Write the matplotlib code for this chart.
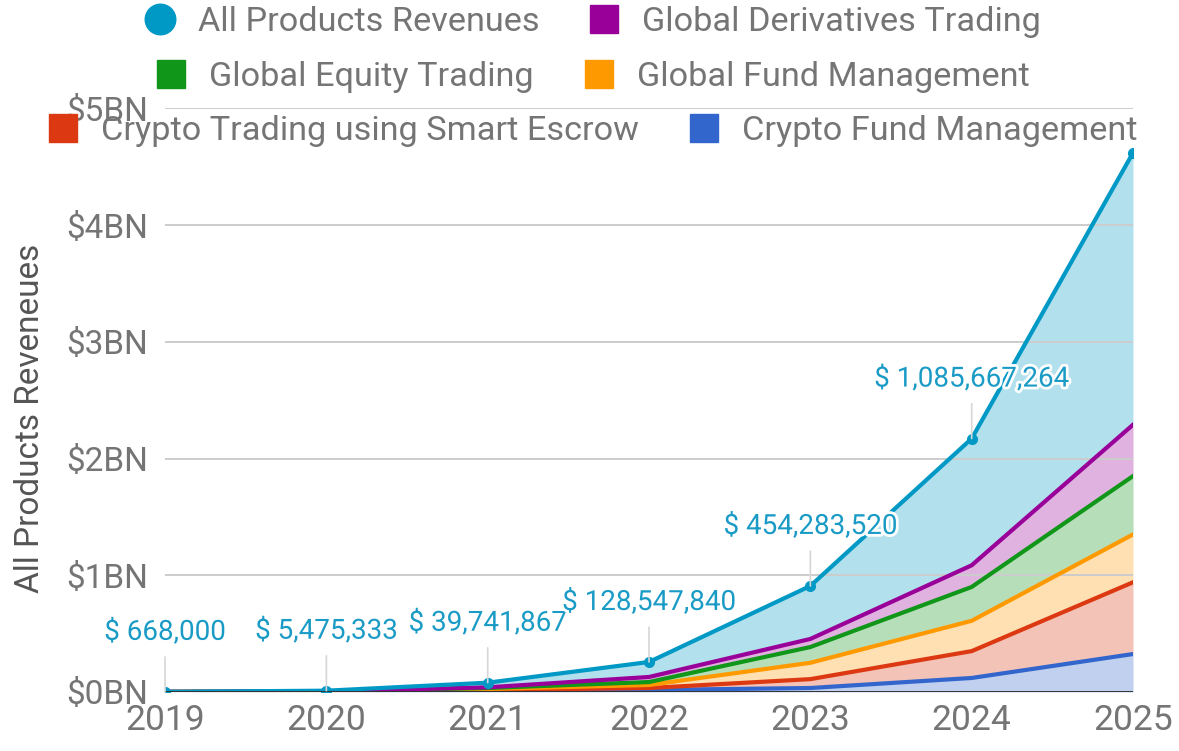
import numpy as np
import matplotlib
matplotlib.use("Agg")
import matplotlib.pyplot as plt
import matplotlib.patheffects as pe
from matplotlib.lines import Line2D
from matplotlib.ticker import FuncFormatter

plt.rcParams["font.family"] = ["Roboto", "DejaVu Sans"]

# ── Data (USD) ─────────────────────────────────────────────────────────────────
years = [2019, 2020, 2021, 2022, 2023, 2024, 2025]

crypto_fund   = [150_000, 1_200_000, 9_000_000, 17_000_000, 34_000_000, 120_000_000, 325_000_000]
crypto_escrow = [130_000, 1_100_000, 8_000_000, 17_000_000, 76_000_000, 230_000_000, 615_000_000]
global_fund   = [130_000, 1_100_000, 9_000_000, 26_000_000, 140_000_000, 260_000_000, 410_000_000]
global_equity = [130_000, 1_000_000, 8_000_000, 25_000_000, 135_000_000, 290_000_000, 500_000_000]
global_deriv  = [128_000, 1_075_333, 5_741_867, 43_547_840, 69_283_520, 185_667_264, 440_000_000]
all_products  = [668_000, 5_475_333, 39_741_867, 128_547_840, 454_283_520, 1_085_667_264, 2_330_000_000]

labels = ["Crypto Fund Management", "Crypto Trading using Smart Escrow",
          "Global Fund Management", "Global Equity Trading",
          "Global Derivatives Trading", "All Products Revenues"]
colors = ["#3366CC", "#DC3912", "#FF9900", "#109618", "#990099", "#0099C6"]

series = np.array([crypto_fund, crypto_escrow, global_fund,
                   global_equity, global_deriv, all_products], dtype=float)
stacked = np.cumsum(series, axis=0)

# ── Figure ─────────────────────────────────────────────────────────────────────
fig = plt.figure(figsize=(11.79, 7.51), dpi=100)
ax = fig.add_axes([0.14, 0.0786, 0.821, 0.777])

gray = "#757575"
prev = np.zeros(len(years))
for i, (lab, col) in enumerate(zip(labels, colors)):
    ax.fill_between(years, prev, stacked[i], color=col, alpha=0.3, lw=0, zorder=1)
    prev = stacked[i]
for i, (lab, col) in enumerate(zip(labels, colors)):
    ax.plot(years, stacked[i], color=col, lw=3, zorder=3 + i, solid_joinstyle="round")

# points on the total line
ax.plot(years, stacked[-1], "o", color=colors[-1], ms=7, zorder=10)

# annotations for the All Products series (its own value)
halo = [pe.withStroke(linewidth=4, foreground="white")]
for x, top, val in zip(years[:-1], stacked[-1][:-1], all_products[:-1]):
    ax.annotate(f"$ {val:,.0f}", xy=(x, top), xytext=(0, 43), textcoords="offset points",
                ha="center", va="center", fontsize=20, color="#1A9BC6",
                path_effects=halo, zorder=12,
                arrowprops=dict(arrowstyle="-", color="#d6d6d6", lw=1.2,
                                shrinkA=6, shrinkB=0))

ax.set_xlim(2019, 2025)
ax.set_ylim(0, 5e9)
ax.set_yticks([0, 1e9, 2e9, 3e9, 4e9, 5e9])
ax.yaxis.set_major_formatter(FuncFormatter(lambda v, p: f"${v / 1e9:.0f}BN"))
ax.set_xticks(years)
ax.grid(True, axis="y", color="#cccccc", lw=1.4, zorder=0)
ax.axhline(0, color="#333333", lw=1.4, zorder=11)
for s in ax.spines.values():
    s.set_visible(False)
ax.tick_params(axis="both", length=0, labelsize=24, labelcolor=gray)
ax.tick_params(axis="y", pad=12)
ax.tick_params(axis="x", pad=9, labelsize=25.5)

fig.text(30 / 1179, 1 - 418 / 751, "All Products Reveneues", rotation=90,
         ha="center", va="center", fontsize=24, color="#555555")

# ── Legend: three centred rows ─────────────────────────────────────────────────
def handle(i, marker="s"):
    return Line2D([], [], ls="none", marker=marker, ms=20 if marker == "s" else 22,
                  mfc=colors[i], mec=colors[i])

rows = [
    ([handle(5, "o"), handle(4)], [labels[5], labels[4]], 1 - 22 / 751),
    ([handle(3), handle(2)], [labels[3], labels[2]], 1 - 77 / 751),
    ([handle(1), handle(0)], [labels[1], labels[0]], 1 - 131 / 751),
]
for hs, ls, y in rows:
    leg = fig.legend(hs, ls, loc="center", bbox_to_anchor=(0.502, y), ncol=2,
                     frameon=False, fontsize=24.7, handlelength=1.0,
                     handletextpad=0.6, columnspacing=1.4, borderpad=0)
    for t in leg.get_texts():
        t.set_color(gray)

plt.savefig("out.png", dpi=100)
